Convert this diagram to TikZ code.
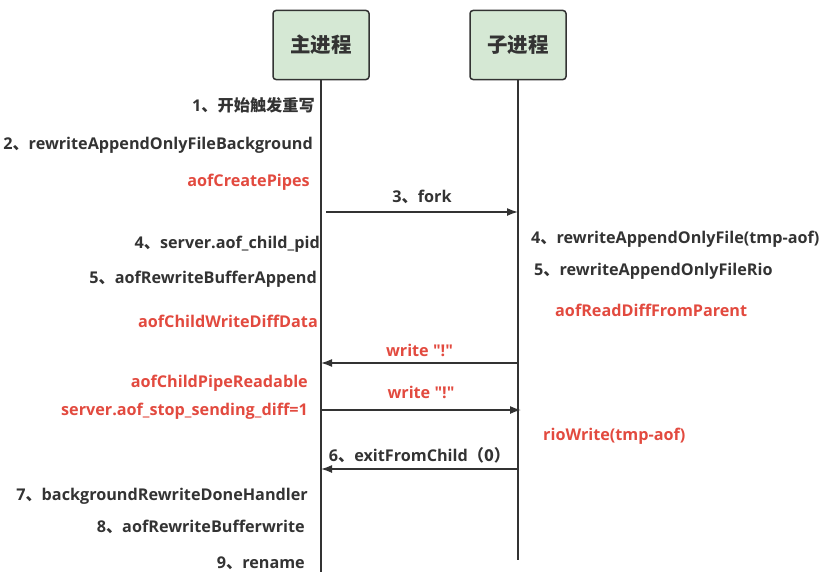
\documentclass[tikz,border=0pt]{standalone}
\usepackage{fontspec}
\newfontfamily\latin{Open Sans}
\newfontfamily\cjk{Noto Sans CJK SC}
\newcommand{\dun}{{\cjk 、}}
\usepackage{tikz}
\usepackage{xcolor}
\usetikzlibrary{arrows,arrows.meta,positioning}
\definecolor{ink}{HTML}{333333}
\definecolor{hot}{HTML}{E24A3F}
\definecolor{leaf}{HTML}{D5E8D4}

\begin{document}
\begin{tikzpicture}[x=1pt,y=-1pt]
  \tikzset{proc/.style={draw=ink,fill=leaf,rounded corners=3pt,line width=1.5pt,
      minimum width=96pt,minimum height=69pt,font=\cjk\fontsize{20.5}{22}\selectfont\bfseries,text=ink}}
  \tikzset{life/.style={draw=ink,line width=1.5pt}}
  \tikzset{msg/.style={-{Latex[length=11pt,width=8pt]},draw=ink,line width=1.5pt}}
  \tikzset{note/.style={inner sep=0pt,font=\latin\fontsize{16.2}{18}\selectfont\bfseries,text=ink}}
  \tikzset{hint/.style={note,text=hot}}
  \useasboundingbox (0,0) rectangle (829,578);
  % lifelines
  \node[proc] (main) at (321,45) {主进程};
  \node[proc] (child) at (518,45) {子进程};
  \coordinate (mainend) at (321,572);
  \coordinate (childend) at (518,560);
  \draw[life] (main) -- (mainend);
  \draw[life] (child) -- (childend);

  % main process side
  \node[note,anchor=east] (n1) at (315,105) {1{\cjk 、开始触发重写}};
  \node[note,anchor=east] (n2) at (313,145) {2\dun rewriteAppendOnlyFileBackground};
  \node[hint,anchor=east] (n2a) at (310,182) {aofCreatePipes};
  \node[note,anchor=east] (n4) at (320,244) {4\dun server.aof\_child\_pid};
  \node[note,anchor=east] (n5) at (317,279) {5\dun aofRewriteBufferAppend};
  \node[hint,anchor=east] (n5a) at (318,321) {aofChildWriteDiffData};
  \node[hint,anchor=east] (n5b) at (308,383) {aofChildPipeReadable};
  \node[hint,anchor=east] (n5c) at (308,411) {server.aof\_stop\_sending\_diff=1};
  \node[note,anchor=east] (n7) at (308,496) {7\dun backgroundRewriteDoneHandler};
  \node[note,anchor=east] (n8) at (305,527) {8\dun aofRewriteBufferwrite};
  \node[note,anchor=east] (n9) at (305,563) {9\dun rename};

  % child process side
  \node[note,anchor=west] (c4) at (531,239) {4\dun rewriteAppendOnlyFile(tmp-aof)};
  \node[note,anchor=west] (c5) at (534,271) {5\dun rewriteAppendOnlyFileRio};
  \node[hint,anchor=west] (c5a) at (555,310) {aofReadDiffFromParent};
  \node[hint,anchor=west] (c5b) at (543,436) {rioWrite(tmp-aof)};

  % messages
  \coordinate (fork0) at (326,212);
  \coordinate (fork1) at (518,212);
  \draw[msg] (fork0) -- node[note,above=8pt]{3\dun fork} (fork1);
  \coordinate (wa0) at (518,363);
  \coordinate (wa1) at (321,363);
  \draw[msg] (wa0) -- node[hint,above=6pt]{write "!"} (wa1);
  \coordinate (wb0) at (321,410);
  \coordinate (wb1) at (521,410);
  \draw[msg] (wb0) -- node[hint,above=11pt]{write "!"} (wb1);
  \coordinate (ex0) at (518,469);
  \coordinate (ex1) at (321,469);
  \draw[msg] (ex0) -- node[note,above=5pt]{6\dun exitFromChild{\cjk （0）}} (ex1);
\end{tikzpicture}
\end{document}
